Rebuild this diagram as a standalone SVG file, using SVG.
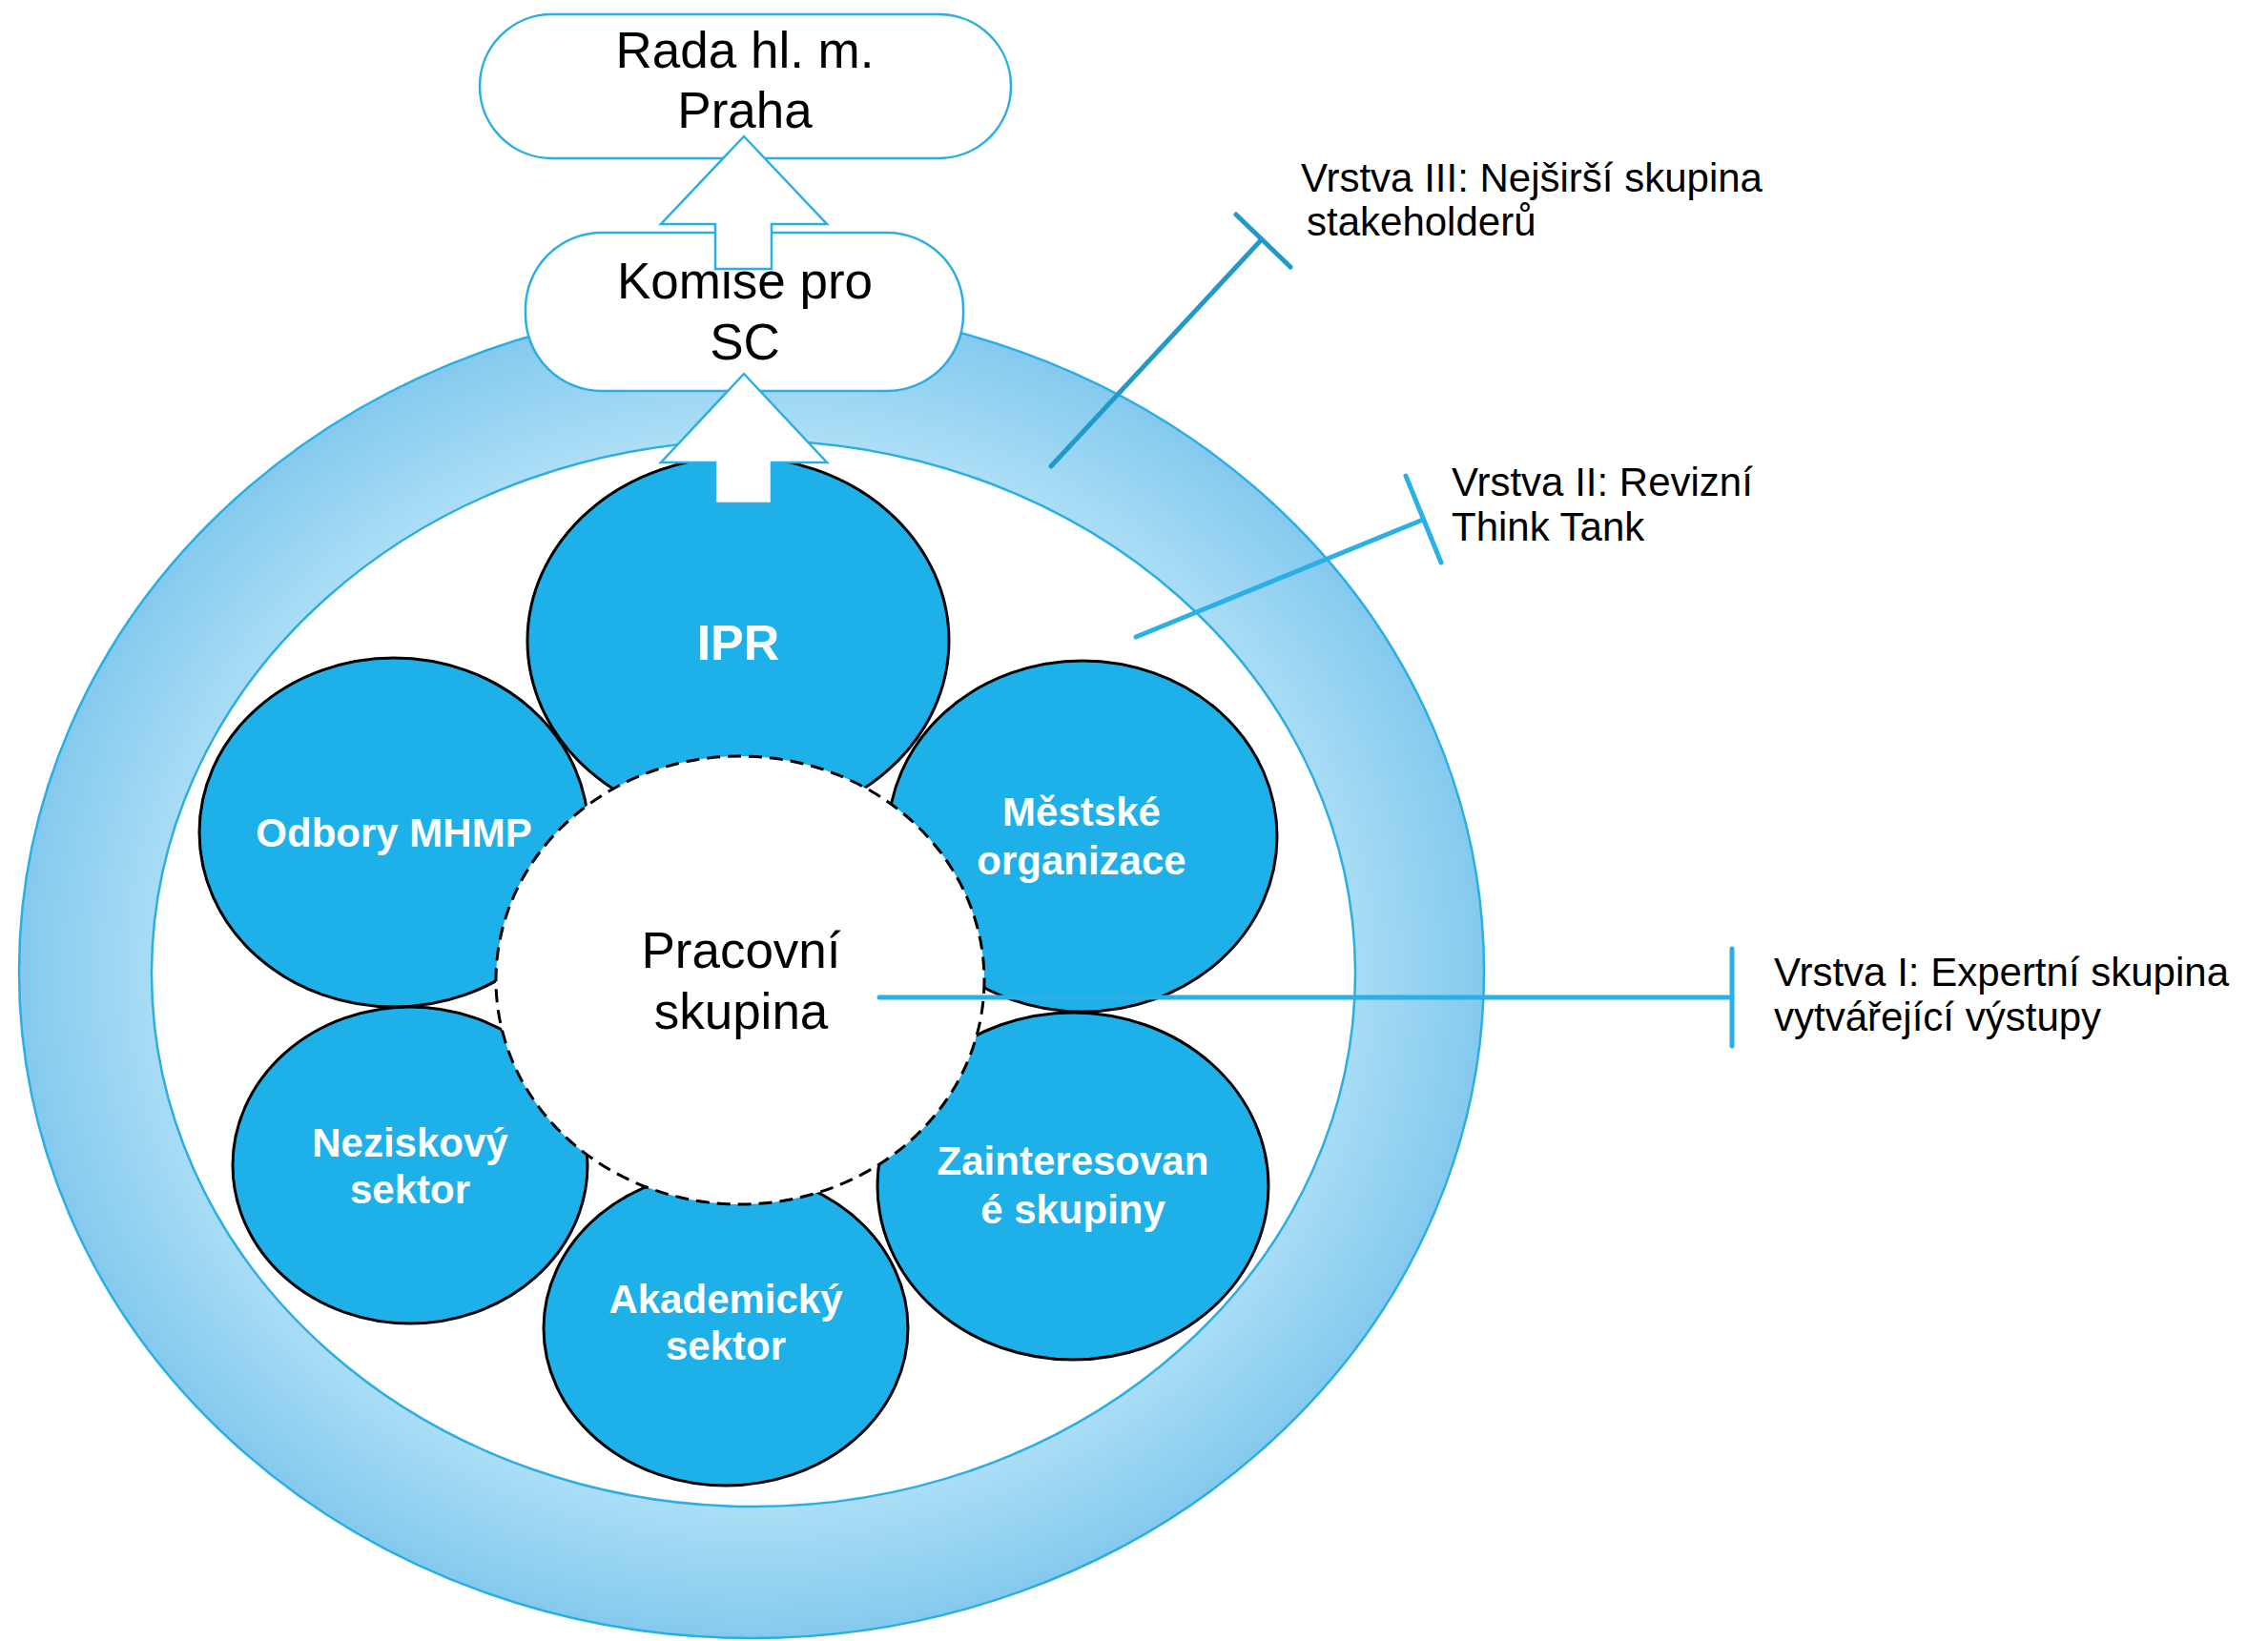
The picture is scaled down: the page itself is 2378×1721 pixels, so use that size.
<svg xmlns="http://www.w3.org/2000/svg" width="2378" height="1721" viewBox="0 0 2378 1721">
<defs>
<radialGradient id="ringGrad" cx="50%" cy="50%" r="50%">
<stop offset="0.8" stop-color="#acdef6"/>
<stop offset="1" stop-color="#84caee"/>
</radialGradient>
<style>
.pill{fill:#ffffff;stroke:#2aaee4;stroke-width:2.5}
.arrow{fill:#ffffff;stroke:#2aaee4;stroke-width:2.5;stroke-linejoin:miter}
.blob{fill:#1eb0e9;stroke:#000000;stroke-width:3}
.btxt{font-family:"Liberation Sans",Arial,sans-serif;font-weight:bold;font-size:42px;fill:#ffffff;text-anchor:middle}
.ntxt{font-family:"Liberation Sans",Arial,sans-serif;font-size:53px;fill:#000000;text-anchor:middle}
.ltxt{font-family:"Liberation Sans",Arial,sans-serif;font-size:42px;fill:#000000}
.lead{fill:none;stroke-width:5;stroke-linecap:round}
</style>
</defs>
<rect x="0" y="0" width="2378" height="1721" fill="#ffffff"/>

<g id="ring">
<ellipse cx="788" cy="1019" rx="768" ry="699" fill="url(#ringGrad)" stroke="#2aaee4" stroke-width="2.5"/>
<ellipse cx="790" cy="1021" rx="631" ry="559" fill="#ffffff" stroke="#2aaee4" stroke-width="2.5"/>
</g>

<g id="rada">
<rect class="pill" x="503" y="15" width="557" height="151" rx="75.5" ry="75.5"/>
<text class="ntxt" x="781" y="71">Rada hl. m.</text>
<text class="ntxt" x="781" y="134">Praha</text>
</g>

<g id="komise">
<rect class="pill" x="551" y="244" width="459" height="166" rx="80" ry="80"/>
<text class="ntxt" x="781" y="313">Komise pro</text>
<text class="ntxt" x="781" y="377">SC</text>
</g>

<g id="ipr">
<ellipse class="blob" cx="774" cy="672" rx="221" ry="193"/>
<text class="btxt" x="774" y="692" style="font-size:52px">IPR</text>
</g>
<g id="odbory">
<ellipse class="blob" cx="413" cy="873" rx="204" ry="183"/>
<text class="btxt" x="413" y="888">Odbory MHMP</text>
</g>
<g id="mestske">
<ellipse class="blob" cx="1135" cy="877" rx="204" ry="184"/>
<text class="btxt" x="1134" y="866">Městské</text>
<text class="btxt" x="1134" y="917">organizace</text>
</g>
<g id="neziskovy">
<ellipse class="blob" cx="430" cy="1222" rx="186" ry="166"/>
<text class="btxt" x="430" y="1213">Neziskový</text>
<text class="btxt" x="430" y="1262">sektor</text>
</g>
<g id="akademicky">
<ellipse class="blob" cx="761" cy="1393" rx="191" ry="165"/>
<text class="btxt" x="761" y="1377">Akademický</text>
<text class="btxt" x="761" y="1426">sektor</text>
</g>
<g id="zainteresovane">
<ellipse class="blob" cx="1125" cy="1244" rx="205" ry="182"/>
<text class="btxt" x="1125" y="1232">Zainteresovan</text>
<text class="btxt" x="1125" y="1283">é skupiny</text>
</g>

<g id="pracovni">
<ellipse cx="776" cy="1028" rx="256" ry="235" fill="#ffffff" stroke="#000000" stroke-width="3" stroke-dasharray="14 8"/>
<text class="ntxt" x="777" y="1015">Pracovní</text>
<text class="ntxt" x="777" y="1079">skupina</text>
</g>

<g id="connectors">
<polygon class="arrow" points="780,143 867,235 809,235 809,282 750,282 750,235 693,235"/>
<polygon class="arrow" points="780,392 867,485 809,485 809,528 750,528 750,485 693,485"/>
<line class="lead" stroke="#2399c9" x1="1102" y1="489" x2="1322" y2="252"/>
<line class="lead" stroke="#2399c9" x1="1296" y1="225" x2="1353" y2="280"/>
<line class="lead" stroke="#2ab0e6" x1="1191" y1="668" x2="1492" y2="545"/>
<line class="lead" stroke="#2ab0e6" x1="1474" y1="499" x2="1511" y2="590"/>
<line class="lead" stroke="#2ab0e6" x1="922" y1="1046" x2="1816" y2="1046"/>
<line class="lead" stroke="#2ab0e6" x1="1816" y1="995" x2="1816" y2="1097"/>
</g>

<g id="labels">
<text class="ltxt" x="1364" y="201">Vrstva III: Nejširší skupina</text>
<text class="ltxt" x="1370" y="247">stakeholderů</text>
<text class="ltxt" x="1522" y="520">Vrstva II: Revizní</text>
<text class="ltxt" x="1522" y="567">Think Tank</text>
<text class="ltxt" x="1860" y="1034">Vrstva I: Expertní skupina</text>
<text class="ltxt" x="1860" y="1081">vytvářející výstupy</text>
</g>
</svg>
